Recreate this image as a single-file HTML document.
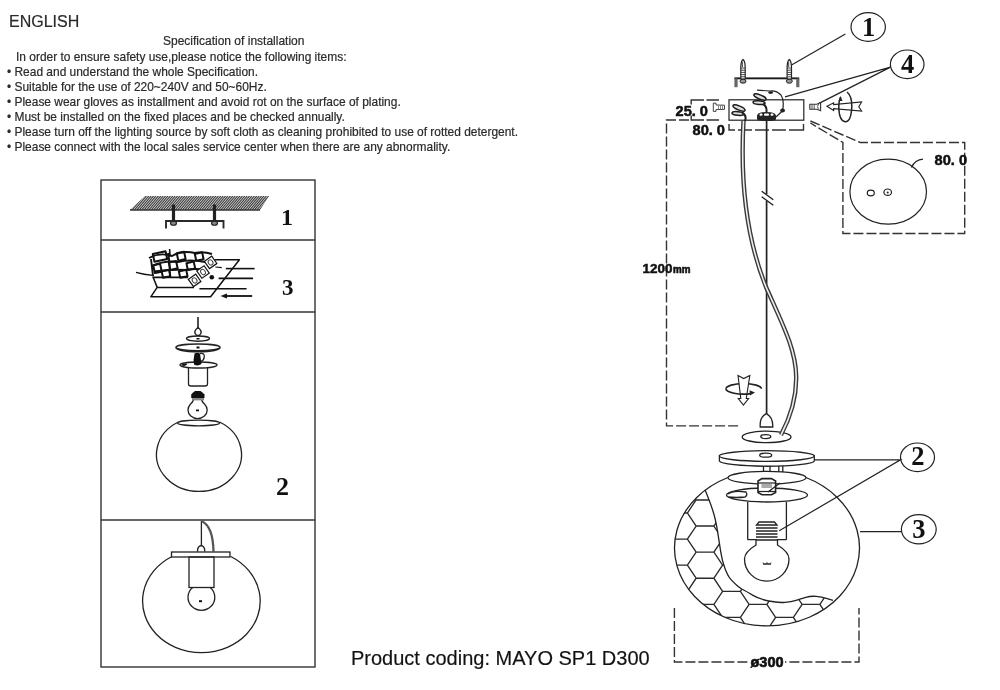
<!DOCTYPE html>
<html><head><meta charset="utf-8">
<style>
html,body{margin:0;padding:0;background:#fff;}
body{width:1000px;height:690px;position:relative;overflow:hidden;font-family:"Liberation Sans",sans-serif;color:#2a2a2a;}
.t{position:absolute;white-space:nowrap;font-size:11.94px;line-height:15px;}
svg{position:absolute;left:0;top:0;}
.t,svg{will-change:transform;}
.t{-webkit-text-stroke:0.2px #2a2a2a;}
</style></head><body>
<div class="t" style="left:9px;top:12.8px;font-size:16px;line-height:18px;">ENGLISH</div>
<div class="t" style="left:163px;top:34px;font-size:12px;">Specification of installation</div>
<div class="t" style="left:16px;top:50px;">In order to ensure safety use,please notice the following items:</div>
<div class="t" style="left:7px;top:65px;">• Read and understand the whole Specification.</div>
<div class="t" style="left:7px;top:80px;">• Suitable for the use of 220~240V and 50~60Hz.</div>
<div class="t" style="left:7px;top:95px;">• Please wear gloves as installment and avoid rot on the surface of plating.</div>
<div class="t" style="left:7px;top:110px;">• Must be installed on the fixed places and be checked annually.</div>
<div class="t" style="left:7px;top:125px;">• Please turn off the lighting source by soft cloth as cleaning prohibited to use of rotted detergent.</div>
<div class="t" style="left:7px;top:140px;">• Please connect with the local sales service center when there are any abnormality.</div>
<svg width="1000" height="690" viewBox="0 0 1000 690">
<g stroke="#333" fill="none" stroke-width="1.4">
<rect x="101" y="180" width="214" height="487"/>
<line x1="101" y1="240" x2="315" y2="240"/>
<line x1="101" y1="312" x2="315" y2="312"/>
<line x1="101" y1="520" x2="315" y2="520"/>
</g>
<defs><pattern id="hatch" width="2.4" height="14" patternUnits="userSpaceOnUse" patternTransform="skewX(-45)"><rect width="1.6" height="14" fill="#3a3a3a"/></pattern></defs>
<clipPath id="hc1"><polygon points="145,196 269,196 260,210 130,210"/></clipPath>
<polygon points="145,196 269,196 260,210 130,210" fill="#ddd"/>
<path d="M120.0,210 L132.0,196 M122.4,210 L134.4,196 M124.8,210 L136.8,196 M127.2,210 L139.2,196 M129.6,210 L141.6,196 M132.0,210 L144.0,196 M134.4,210 L146.4,196 M136.8,210 L148.8,196 M139.2,210 L151.2,196 M141.6,210 L153.6,196 M144.0,210 L156.0,196 M146.4,210 L158.4,196 M148.8,210 L160.8,196 M151.2,210 L163.2,196 M153.6,210 L165.6,196 M156.0,210 L168.0,196 M158.4,210 L170.4,196 M160.8,210 L172.8,196 M163.2,210 L175.2,196 M165.6,210 L177.6,196 M168.0,210 L180.0,196 M170.4,210 L182.4,196 M172.8,210 L184.8,196 M175.2,210 L187.2,196 M177.6,210 L189.6,196 M180.0,210 L192.0,196 M182.4,210 L194.4,196 M184.8,210 L196.8,196 M187.2,210 L199.2,196 M189.6,210 L201.6,196 M192.0,210 L204.0,196 M194.4,210 L206.4,196 M196.8,210 L208.8,196 M199.2,210 L211.2,196 M201.6,210 L213.6,196 M204.0,210 L216.0,196 M206.4,210 L218.4,196 M208.8,210 L220.8,196 M211.2,210 L223.2,196 M213.6,210 L225.6,196 M216.0,210 L228.0,196 M218.4,210 L230.4,196 M220.8,210 L232.8,196 M223.2,210 L235.2,196 M225.6,210 L237.6,196 M228.0,210 L240.0,196 M230.4,210 L242.4,196 M232.8,210 L244.8,196 M235.2,210 L247.2,196 M237.6,210 L249.6,196 M240.0,210 L252.0,196 M242.4,210 L254.4,196 M244.8,210 L256.8,196 M247.2,210 L259.2,196 M249.6,210 L261.6,196 M252.0,210 L264.0,196 M254.4,210 L266.4,196 M256.8,210 L268.8,196 M259.2,210 L271.2,196 M261.6,210 L273.6,196 M264.0,210 L276.0,196 M266.4,210 L278.4,196 M268.8,210 L280.8,196 M271.2,210 L283.2,196 M273.6,210 L285.6,196" stroke="#3a3a3a" stroke-width="1.15" clip-path="url(#hc1)"/>
<line x1="130" y1="210" x2="260" y2="210" stroke="#333" stroke-width="1.3"/>
<g stroke="#2a2a2a" fill="none" stroke-width="1.9">
<polyline points="166,228.5 166,221 223.5,221 223.5,228.5"/>
</g>
<path d="M171.9,222 L171.9,205.5 Q173.5,203 175.1,205.5 L175.1,222 Z" fill="#222"/>
<ellipse cx="173.5" cy="223.3" rx="3" ry="2" fill="#888" stroke="#222" stroke-width="1.1"/>
<path d="M212.9,222 L212.9,205.5 Q214.5,203 216.1,205.5 L216.1,222 Z" fill="#222"/>
<ellipse cx="214.5" cy="223.3" rx="3" ry="2" fill="#888" stroke="#222" stroke-width="1.1"/>
<text x="281" y="224.6" font-family="Liberation Serif" font-weight="bold" font-size="24" fill="#111">1</text>
<g stroke="#111" fill="none" stroke-width="1.5" stroke-linejoin="round">
<polyline points="214.6,259.8 239.4,259.8 210.6,296.8 150.8,296.8 157.2,287.4 194,287.4"/>
<polyline points="152.8,276.5 157.2,287.4"/>
<path d="M136,272.3 Q144,274.5 152.8,275.4" stroke-width="1.4"/>
<line x1="225.8" y1="268.6" x2="254.6" y2="268.6" stroke-width="1.6"/>
<line x1="215.4" y1="267" x2="221.8" y2="267.6" stroke-width="1.2"/>
<line x1="218.6" y1="278.4" x2="253" y2="278.4" stroke-width="1.9"/>
<line x1="199.4" y1="288.8" x2="246.6" y2="288.8" stroke-width="1.6"/>
<line x1="224" y1="296" x2="252.2" y2="296" stroke-width="1.8"/>
</g>
<polygon points="220.5,296 227,293.6 227,298.4" fill="#111"/>
<circle cx="211.8" cy="277.2" r="2.3" fill="#111"/>
<g stroke="#111" stroke-width="2" fill="#fff" stroke-linejoin="round">
<rect x="153.5" y="252.5" width="13" height="8" transform="rotate(-12 160 256.5)"/>
<rect x="177.45" y="252.45" width="7.5" height="7.5" transform="rotate(-12 181.2 256.2)"/>
<rect x="195.45" y="253.10000000000002" width="7.5" height="7" transform="rotate(-12 199.2 256.6)"/>
<rect x="169.45" y="261.65" width="7.5" height="7.5" transform="rotate(-12 173.2 265.4)"/>
<rect x="187.05" y="262.3" width="7.5" height="7" transform="rotate(-12 190.8 265.8)"/>
<rect x="154.0" y="264.5" width="7" height="8" transform="rotate(-12 157.5 268.5)"/>
<rect x="162.25" y="270.55" width="7.5" height="6.5" transform="rotate(-12 166 273.8)"/>
<rect x="179.45" y="270.55" width="7.5" height="6.5" transform="rotate(-12 183.2 273.8)"/>
</g>
<path d="M149,258 Q160,252 172,256 Q182,250 195,253 Q203,251 212,254 M152,266 Q165,260 178,262 Q190,259 205,262 M154,271.5 Q170,269 186,270 Q196,268 206,270 M152.8,277.4 L188,277.4 M151,259 L153,276 M168,253 Q170,262 170,278" stroke="#111" stroke-width="1.9" fill="none"/>
<path d="M169.6,249 L170,256" stroke="#111" stroke-width="1.6"/>
<rect x="190.1" y="275.9" width="9" height="9" fill="#fff" stroke="#111" stroke-width="1.2" transform="rotate(-35 194.6 280.4)"/>
<ellipse cx="194.6" cy="280.4" rx="2.2" ry="2.8" fill="none" stroke="#444" stroke-width="1" transform="rotate(-35 194.6 280.4)"/>
<rect x="198.5" y="267.5" width="9" height="9" fill="#fff" stroke="#111" stroke-width="1.2" transform="rotate(-35 203 272)"/>
<ellipse cx="203" cy="272" rx="2.2" ry="2.8" fill="none" stroke="#444" stroke-width="1" transform="rotate(-35 203 272)"/>
<rect x="206.1" y="257.9" width="9" height="9" fill="#fff" stroke="#111" stroke-width="1.2" transform="rotate(-35 210.6 262.4)"/>
<ellipse cx="210.6" cy="262.4" rx="2.2" ry="2.8" fill="none" stroke="#444" stroke-width="1" transform="rotate(-35 210.6 262.4)"/>
<text x="282" y="295.4" font-family="Liberation Serif" font-weight="bold" font-size="23" fill="#111">3</text>
<g stroke="#222" fill="none" stroke-width="1.2">
<line x1="198" y1="317" x2="198" y2="329" stroke-width="1.6"/>
<path d="M198,327.5 Q201.8,330.5 201,333.2 Q200,335.5 198,335.5 Q196,335.5 195,333.2 Q194.2,330.5 198,327.5 Z" stroke-width="1.5"/>
<ellipse cx="198" cy="338.6" rx="11.5" ry="2.6" stroke-width="1.4"/>
<ellipse cx="198" cy="347.3" rx="22" ry="3.3" stroke-width="1.4"/><path d="M176,347.5 Q177,351.5 198,351.8 Q219,351.5 220,347.5" stroke-width="1.6"/>
<path d="M180,365 A18.5,3 0 0 1 217,365 A18.5,3 0 0 1 180,365" stroke-width="1.4"/>
<path d="M188.5,367 L188.5,384 Q188.5,386 191,386 L205,386 Q207.5,386 207.5,384 L207.5,367" stroke-width="1.3"/>
<path d="M193.5,397.5 Q194,401 190.5,404 Q188,407 188,410 A9.6,8.6 0 0 0 207.2,410 Q207.2,407 204.5,404 Q201,401 201.5,397.5" stroke-width="1.3"/>
<path d="M200,353.5 Q205,352.5 204.2,357.5 Q203.5,361 200.5,361.5" stroke-width="1.3"/>
</g>
<rect x="196.5" y="338" width="3" height="1.5" fill="#111"/>
<rect x="196.5" y="346.5" width="3" height="2" fill="#111"/>
<path d="M194.5,353.5 Q197,352 200,353.5 L201.5,364 Q198,366.5 194,364.5 Q193,360 194.5,353.5 Z" fill="#111"/><path d="M180.5,365.2 Q183,363.2 187,363.6 Q187.5,365.5 184,366 Z" fill="#111"/>
<path d="M191.2,398 L191.2,394.5 Q192.5,392.5 195,391 L200.5,391 Q203,392.5 204.5,394.5 L204.5,398 Z" fill="#111"/><rect x="192" y="398" width="12" height="2.4" fill="#888"/>
<rect x="196" y="409.5" width="3" height="1.8" fill="#111"/>
<g stroke="#222" fill="none" stroke-width="1.3">
<path d="M178.5,422 A42.5,37 0 1 0 219.5,422"/>
<ellipse cx="198.6" cy="423" rx="21" ry="2.8"/>
</g>
<text x="276" y="495.2" font-family="Liberation Serif" font-weight="bold" font-size="26" fill="#111">2</text>
<g stroke="#222" fill="none" stroke-width="1.3">
<line x1="201.4" y1="521" x2="201.4" y2="546"/>
<path d="M197.5,551.5 Q197.5,546 201.2,545.5 Q204.8,546 204.8,551.5"/>
<path d="M201.4,521 Q213,526 213.5,551.5" stroke="#555" stroke-width="2.3"/>
<rect x="171.5" y="552" width="58.5" height="5" fill="#fff"/>
<rect x="189" y="557" width="25" height="30.5"/>
<path d="M192.6,587.5 A13.4,13 0 1 0 210.2,587.5"/>
<path d="M172,556.5 A58.8,51.5 0 1 0 230.8,556.5"/>
</g>
<rect x="199" y="600.2" width="3" height="2" fill="#111"/>
<g stroke="#222" fill="none" stroke-width="1.2">
<ellipse cx="868.2" cy="27" rx="17.2" ry="14.3"/>
<ellipse cx="907.2" cy="64.3" rx="16.8" ry="14.3"/>
<ellipse cx="917.5" cy="457.3" rx="17" ry="14.3"/>
<ellipse cx="918.8" cy="529.3" rx="17.4" ry="14.6"/>
<line x1="845.4" y1="34.1" x2="791.5" y2="64.9"/>
<polyline points="785,96.8 890.5,67.1 819,103.4"/>
<line x1="860" y1="531.7" x2="901.4" y2="531.7"/>
<rect x="729" y="99.8" width="74.8" height="20.4"/>
</g>
<g font-family="Liberation Serif" font-size="26.5" fill="#111" font-weight="bold">
<text x="868.5" y="35.6" text-anchor="middle">1</text>
<text x="907.5" y="72.6" text-anchor="middle">4</text>
<text x="917.8" y="465.2" text-anchor="middle">2</text>
<text x="918.8" y="537.8" text-anchor="middle">3</text>
</g>
<rect x="734.4" y="77.4" width="64.8" height="1.9" fill="#1a1a1a"/>
<rect x="734.4" y="78.5" width="3.2" height="8.7" fill="#666"/>
<rect x="796.2" y="78.5" width="3.2" height="8.7" fill="#666"/>
<path d="M740.8,79 L740.8,67 Q741,61 743,59.5 Q745,61 745.2,67 L745.2,79 Z" fill="#fff" stroke="#222" stroke-width="1.2"/>
<ellipse cx="743" cy="81.2" rx="3" ry="2" fill="#999" stroke="#222" stroke-width="1"/>
<path d="M740.8,68 L745.2,68 M740.8,70.2 L745.2,70.2 M740.8,72.4 L745.2,72.4 M740.8,74.6 L745.2,74.6 M740.8,76.8 L745.2,76.8" stroke="#333" stroke-width="0.9"/>
<path d="M742.4,62 L742.4,67" stroke="#444" stroke-width="1"/>
<path d="M787.0999999999999,79 L787.0999999999999,67 Q787.3,61 789.3,59.5 Q791.3,61 791.5,67 L791.5,79 Z" fill="#fff" stroke="#222" stroke-width="1.2"/>
<ellipse cx="789.3" cy="81.2" rx="3" ry="2" fill="#999" stroke="#222" stroke-width="1"/>
<path d="M787.0999999999999,68 L791.5,68 M787.0999999999999,70.2 L791.5,70.2 M787.0999999999999,72.4 L791.5,72.4 M787.0999999999999,74.6 L791.5,74.6 M787.0999999999999,76.8 L791.5,76.8" stroke="#333" stroke-width="0.9"/>
<path d="M788.6999999999999,62 L788.6999999999999,67" stroke="#444" stroke-width="1"/>
<g stroke="#333" fill="none" stroke-width="1.4" stroke-dasharray="10,3">
</g>
<g stroke="#333" fill="none" stroke-width="1.4">
<path d="M719,100 L706.5,100 M704,100 L691.2,100 L691.2,104.5 M691.2,115.5 L691.2,120 L704,120 M706.5,120 L719,120"/>
<path d="M729,124 L729,130 L735,130 M738,130 L752,130 M755,130 L769,130 M772,130 L786,130 M789,130 L803.5,130 L803.5,124"/>
<path d="M689,120 L666.5,120 L666.5,425.9 L740,425.9" stroke-dasharray="10,3"/>
</g>
<g stroke="#333" fill="none" stroke-width="1.4" stroke-dasharray="10,3">
<polyline points="810.4,121 860.3,142.5 964.7,142.5 964.7,233.5 842.9,233.5 842.9,142.5 810.4,123"/>
<polyline points="674.4,608 674.4,662 859,662 859,608"/>
</g>
<g font-family="Liberation Sans" font-weight="bold" fill="#111">
<g stroke="#111" stroke-width="0.5">
<text x="675.5" y="115.6" font-size="14" textLength="32.5" lengthAdjust="spacingAndGlyphs">25. 0</text>
<text x="692.5" y="135" font-size="14" textLength="32.5" lengthAdjust="spacingAndGlyphs">80. 0</text>
<text x="934.6" y="165" font-size="14" textLength="32.5" lengthAdjust="spacingAndGlyphs">80. 0</text>
</g>
<text x="642.5" y="272.8" font-size="13.5" textLength="30" lengthAdjust="spacingAndGlyphs" stroke="#111" stroke-width="0.5">1200</text>
<text x="673" y="272.8" font-size="10" textLength="17.5" lengthAdjust="spacingAndGlyphs" stroke="#111" stroke-width="0.6">mm</text>
<rect x="749" y="655" width="36" height="13" fill="#fff"/>
<text x="750.5" y="666.8" font-size="14" textLength="33" lengthAdjust="spacingAndGlyphs" stroke="#111" stroke-width="0.6">ø300</text>
</g>
<g stroke="#222" fill="none" stroke-width="1.3">
<path d="M766.6,121 L766.6,194 M766.6,201 L766.6,414" stroke-width="1.7"/>
<line x1="761.7" y1="191.2" x2="773.3" y2="199.8" stroke-width="1.4"/><line x1="761.7" y1="196.7" x2="773.3" y2="205.2" stroke-width="1.4"/>
<path d="M760.2,427 Q759.5,417 766.3,413.7 Q773,417 772.8,427 Z"/>
<ellipse cx="766.6" cy="436.9" rx="24.4" ry="5.8"/>
<ellipse cx="765.8" cy="436.6" rx="5" ry="2"/>
</g>
<path d="M743.5,121 C740.5,175 744,232 766,287 C783,325 796,350 796.2,377 C796.5,400 789,420 781,435" stroke="#3a3a3a" stroke-width="4.4" fill="none"/>
<path d="M743.5,121 C740.5,175 744,232 766,287 C783,325 796,350 796.2,377 C796.5,400 789,420 781,435" stroke="#eee" stroke-width="1.6" fill="none"/>
<g fill="#222">
<path d="M757,116 Q757,112 766.5,112 Q776,112 776,116 L776,119 Q776,121 766.5,121 Q757,121 757,119 Z"/>
<rect x="759.5" y="113.6" width="3" height="2.2" rx="1" fill="#fff"/><rect x="764" y="113.6" width="5" height="2.2" rx="1" fill="#fff"/><rect x="770.5" y="113.6" width="3" height="2.2" rx="1" fill="#fff"/>
</g>
<g stroke="#222" fill="none" stroke-width="1.2">
<path d="M776,117 L782.6,110.6 Q784.5,100 781,95 Q776,90 770,91 L757,90.2"/>
</g>
<g fill="#222">
<ellipse cx="782.6" cy="110.6" rx="2.4" ry="2" />
</g><g fill="#ddd" stroke="#1a1a1a" stroke-width="1.5">
<ellipse cx="739" cy="108" rx="6.5" ry="2" transform="rotate(22 739 108)"/>
<ellipse cx="738" cy="113.5" rx="6" ry="1.8" transform="rotate(5 738 113.5)"/>
<ellipse cx="760" cy="97" rx="6.5" ry="2" transform="rotate(22 760 97)"/>
<ellipse cx="759" cy="102.6" rx="6" ry="1.8" transform="rotate(5 759 102.6)"/>
</g><g fill="#222">
<ellipse cx="770.6" cy="92.6" rx="2.5" ry="1.4"/>
</g>
<path d="M742,113 Q747,115 745,121 M763,104 Q767,106 766.5,112" stroke="#222" stroke-width="2" fill="none"/>
<path d="M713.3,103.2 L716,103.2 L716,105 L724.5,105.2 L724.5,109.4 L716,109.6 L716,111.4 L713.3,111.4 Z" fill="#fff" stroke="#444" stroke-width="1"/>
<path d="M718.5,105.3 L718.5,109.4 M720.5,105.3 L720.5,109.4 M722.5,105.3 L722.5,109.4" stroke="#666" stroke-width="0.8"/>
<path d="M809.8,104.2 L816.8,104.2 L820.6,102.6 L820.6,110.7 L816.8,109.2 L809.8,109.2 Z" fill="#fff" stroke="#333" stroke-width="1.1"/>
<path d="M812,104.3 L812,109.2 M814.2,104.3 L814.2,109.2 M818.6,104 L817.5,106.7 L818.6,109.4" stroke="#444" stroke-width="0.9" fill="none"/>
<path d="M827,106.3 L833.6,102.8 L833.6,104.6 L861.6,102 L858.8,106.7 L861.6,111 L833.6,108.6 L833.6,110.5 Z" fill="#fff" stroke="#222" stroke-width="1.1"/>
<path d="M847,92 Q852,96 851.8,107 Q851,122 845.3,121.7 Q839,121 838.8,107 Q839,100 840.6,97" fill="none" stroke="#222" stroke-width="1.5"/>
<polygon points="840.6,96 838.5,101 842.5,101" fill="#222"/>
<path d="M726,388.8 A17.7,5.2 0 0 1 761.4,388.8" fill="none" stroke="#222" stroke-width="1.7"/>
<path d="M738,375.4 L743.7,378.6 L749.8,375.4 L746.3,398.5 L748.6,398.5 L743.4,405 L738.3,398.5 L740.8,398.5 Z" fill="#fff" stroke="#222" stroke-width="1.1"/>
<path d="M726,388.8 A17.7,5.2 0 0 0 751,393.6" fill="none" stroke="#222" stroke-width="1.7"/>
<polygon points="755,392.6 749.5,390.3 750,395.6" fill="#222"/>
<g stroke="#222" fill="none" stroke-width="1.2">
<ellipse cx="888.2" cy="191.7" rx="38.3" ry="32.5"/>
<ellipse cx="870.8" cy="193" rx="3.5" ry="2.8"/>
<ellipse cx="887.7" cy="192.2" rx="3.8" ry="3.2"/>
<path d="M911.4,167.4 Q915,160 923,159.2"/>
</g>
<circle cx="887.7" cy="192.4" r="1" fill="#222"/>
<defs><clipPath id="gclip"><ellipse cx="767" cy="548" rx="92.5" ry="77.8"/></clipPath>
<clipPath id="hclip"><polygon points="705,489.8 710.8,504 715.5,519 719.2,541.7 722,560.6 727.7,575.7 733,582 741,588.9 746,591.2 759,599 778.5,603 791.5,601.6 800.6,599 811,595.8 821.4,597 833,600.3 840,640 660,640 660,489.8"/></clipPath></defs>
<path d="M728,477.5 A92.5,77.8 0 1 0 806,477.5" fill="none" stroke="#222" stroke-width="1.3"/>
<g clip-path="url(#gclip)"><g clip-path="url(#hclip)"><path d="M643.1,473.9 L660.9,473.9 L669.6,486.9 L660.9,500.0 L643.1,500.0 L634.4,486.9 Z M643.1,499.9 L660.9,499.9 L669.6,513.0 L660.9,526.0 L643.1,526.0 L634.4,513.0 Z M643.1,526.1 L660.9,526.1 L669.6,539.1 L660.9,552.1 L643.1,552.1 L634.4,539.1 Z M643.1,552.2 L660.9,552.2 L669.6,565.2 L660.9,578.2 L643.1,578.2 L634.4,565.2 Z M643.1,578.3 L660.9,578.3 L669.6,591.3 L660.9,604.4 L643.1,604.4 L634.4,591.3 Z M643.1,604.4 L660.9,604.4 L669.6,617.4 L660.9,630.5 L643.1,630.5 L634.4,617.4 Z M643.1,630.5 L660.9,630.5 L669.6,643.5 L660.9,656.5 L643.1,656.5 L634.4,643.5 Z M669.6,460.8 L687.4,460.8 L696.1,473.9 L687.4,486.9 L669.6,486.9 L660.9,473.9 Z M669.6,486.9 L687.4,486.9 L696.1,500.0 L687.4,513.0 L669.6,513.0 L660.9,500.0 Z M669.6,513.0 L687.4,513.0 L696.1,526.0 L687.4,539.1 L669.6,539.1 L660.9,526.0 Z M669.6,539.1 L687.4,539.1 L696.1,552.1 L687.4,565.2 L669.6,565.2 L660.9,552.1 Z M669.6,565.2 L687.4,565.2 L696.1,578.2 L687.4,591.3 L669.6,591.3 L660.9,578.2 Z M669.6,591.3 L687.4,591.3 L696.1,604.4 L687.4,617.4 L669.6,617.4 L660.9,604.4 Z M669.6,617.4 L687.4,617.4 L696.1,630.5 L687.4,643.5 L669.6,643.5 L660.9,630.5 Z M696.1,473.9 L713.9,473.9 L722.6,486.9 L713.9,500.0 L696.1,500.0 L687.4,486.9 Z M696.1,499.9 L713.9,499.9 L722.6,513.0 L713.9,526.0 L696.1,526.0 L687.4,513.0 Z M696.1,526.1 L713.9,526.1 L722.6,539.1 L713.9,552.1 L696.1,552.1 L687.4,539.1 Z M696.1,552.2 L713.9,552.2 L722.6,565.2 L713.9,578.2 L696.1,578.2 L687.4,565.2 Z M696.1,578.3 L713.9,578.3 L722.6,591.3 L713.9,604.4 L696.1,604.4 L687.4,591.3 Z M696.1,604.4 L713.9,604.4 L722.6,617.4 L713.9,630.5 L696.1,630.5 L687.4,617.4 Z M696.1,630.5 L713.9,630.5 L722.6,643.5 L713.9,656.5 L696.1,656.5 L687.4,643.5 Z M722.6,460.8 L740.4,460.8 L749.1,473.9 L740.4,486.9 L722.6,486.9 L713.9,473.9 Z M722.6,486.9 L740.4,486.9 L749.1,500.0 L740.4,513.0 L722.6,513.0 L713.9,500.0 Z M722.6,513.0 L740.4,513.0 L749.1,526.0 L740.4,539.1 L722.6,539.1 L713.9,526.0 Z M722.6,539.1 L740.4,539.1 L749.1,552.1 L740.4,565.2 L722.6,565.2 L713.9,552.1 Z M722.6,565.2 L740.4,565.2 L749.1,578.2 L740.4,591.3 L722.6,591.3 L713.9,578.2 Z M722.6,591.3 L740.4,591.3 L749.1,604.4 L740.4,617.4 L722.6,617.4 L713.9,604.4 Z M722.6,617.4 L740.4,617.4 L749.1,630.5 L740.4,643.5 L722.6,643.5 L713.9,630.5 Z M749.1,473.9 L766.9,473.9 L775.6,486.9 L766.9,500.0 L749.1,500.0 L740.4,486.9 Z M749.1,499.9 L766.9,499.9 L775.6,513.0 L766.9,526.0 L749.1,526.0 L740.4,513.0 Z M749.1,526.1 L766.9,526.1 L775.6,539.1 L766.9,552.1 L749.1,552.1 L740.4,539.1 Z M749.1,552.2 L766.9,552.2 L775.6,565.2 L766.9,578.2 L749.1,578.2 L740.4,565.2 Z M749.1,578.3 L766.9,578.3 L775.6,591.3 L766.9,604.4 L749.1,604.4 L740.4,591.3 Z M749.1,604.4 L766.9,604.4 L775.6,617.4 L766.9,630.5 L749.1,630.5 L740.4,617.4 Z M749.1,630.5 L766.9,630.5 L775.6,643.5 L766.9,656.5 L749.1,656.5 L740.4,643.5 Z M775.6,460.8 L793.4,460.8 L802.1,473.9 L793.4,486.9 L775.6,486.9 L766.9,473.9 Z M775.6,486.9 L793.4,486.9 L802.1,500.0 L793.4,513.0 L775.6,513.0 L766.9,500.0 Z M775.6,513.0 L793.4,513.0 L802.1,526.0 L793.4,539.1 L775.6,539.1 L766.9,526.0 Z M775.6,539.1 L793.4,539.1 L802.1,552.1 L793.4,565.2 L775.6,565.2 L766.9,552.1 Z M775.6,565.2 L793.4,565.2 L802.1,578.2 L793.4,591.3 L775.6,591.3 L766.9,578.2 Z M775.6,591.3 L793.4,591.3 L802.1,604.4 L793.4,617.4 L775.6,617.4 L766.9,604.4 Z M775.6,617.4 L793.4,617.4 L802.1,630.5 L793.4,643.5 L775.6,643.5 L766.9,630.5 Z M802.1,473.9 L819.9,473.9 L828.6,486.9 L819.9,500.0 L802.1,500.0 L793.4,486.9 Z M802.1,499.9 L819.9,499.9 L828.6,513.0 L819.9,526.0 L802.1,526.0 L793.4,513.0 Z M802.1,526.1 L819.9,526.1 L828.6,539.1 L819.9,552.1 L802.1,552.1 L793.4,539.1 Z M802.1,552.2 L819.9,552.2 L828.6,565.2 L819.9,578.2 L802.1,578.2 L793.4,565.2 Z M802.1,578.3 L819.9,578.3 L828.6,591.3 L819.9,604.4 L802.1,604.4 L793.4,591.3 Z M802.1,604.4 L819.9,604.4 L828.6,617.4 L819.9,630.5 L802.1,630.5 L793.4,617.4 Z M802.1,630.5 L819.9,630.5 L828.6,643.5 L819.9,656.5 L802.1,656.5 L793.4,643.5 Z M828.6,460.8 L846.4,460.8 L855.1,473.9 L846.4,486.9 L828.6,486.9 L819.9,473.9 Z M828.6,486.9 L846.4,486.9 L855.1,500.0 L846.4,513.0 L828.6,513.0 L819.9,500.0 Z M828.6,513.0 L846.4,513.0 L855.1,526.0 L846.4,539.1 L828.6,539.1 L819.9,526.0 Z M828.6,539.1 L846.4,539.1 L855.1,552.1 L846.4,565.2 L828.6,565.2 L819.9,552.1 Z M828.6,565.2 L846.4,565.2 L855.1,578.2 L846.4,591.3 L828.6,591.3 L819.9,578.2 Z M828.6,591.3 L846.4,591.3 L855.1,604.4 L846.4,617.4 L828.6,617.4 L819.9,604.4 Z M828.6,617.4 L846.4,617.4 L855.1,630.5 L846.4,643.5 L828.6,643.5 L819.9,630.5 Z" fill="none" stroke="#2a2a2a" stroke-width="1.3"/></g></g>
<path d="M705,489.8 Q710.8,504 713.1,511.5 Q715.5,519 717.4,530.4 Q719.2,541.7 720.6,551.2 Q722,560.6 724.9,568.2 Q727.7,575.7 730.4,578.9 Q733,582 737.0,585.5 Q741,588.9 743.5,590.0 Q746,591.2 752.5,595.1 Q759,599 768.8,601.0 Q778.5,603 785.0,602.3 Q791.5,601.6 796.0,600.3 Q800.6,599 805.8,597.4 Q811,595.8 816.2,596.4 Q821.4,597 827.2,598.6 L833,600.3" fill="none" stroke="#222" stroke-width="1.3"/>
<g stroke="#222" fill="#fff" stroke-width="1.3">
<rect x="763.5" y="465" width="6.5" height="12" />
<rect x="778.8" y="465" width="4" height="12" />
<path d="M719.4,456 L719.4,461 A47.5,5.5 0 0 0 814.3,461 L814.3,456 Z"/>
<ellipse cx="766.8" cy="456" rx="47.5" ry="5.3"/>
<ellipse cx="765.7" cy="455.2" rx="6" ry="2"/>
<ellipse cx="767" cy="477.7" rx="39" ry="6.3"/>
<ellipse cx="767" cy="495" rx="40.5" ry="7"/>
<path d="M728,494 Q733,490 746,492 Q748,495 745,497 Q736,498 728,497" />
</g>
<g stroke="#222" fill="none" stroke-width="1.3">
<path d="M747.7,502 L747.7,539.7 M786.4,502 L786.4,539.7 M747.7,539.7 L756,539.7 M777.5,539.7 L786.4,539.7"/>
<path d="M756,539 L756,545 Q744.5,552 744.5,559 A22.2,22 0 0 0 789,559 Q789,552 777.5,545 L777.5,539"/>
<path d="M759,522 L774.5,522 L777,525 L756.5,525 Z"/>
</g>
<g stroke="#222" stroke-width="1.5">
<line x1="756" y1="528" x2="777.5" y2="528"/>
<line x1="756" y1="531" x2="777.5" y2="531"/>
<line x1="756" y1="534" x2="777.5" y2="534"/>
<line x1="756" y1="537" x2="777.5" y2="537"/>
<line x1="756" y1="540" x2="777.5" y2="540"/>
</g>
<path d="M758,481 L762,478.6 L771.5,478.6 L775.6,481 L775.6,492.5 L771.5,494.8 L762,494.8 L758,492.5 Z" fill="#fff" stroke="#222" stroke-width="1.6"/>
<path d="M761.5,484 L772,484 L772,488 L761.5,488 Z" fill="#aaa"/>
<line x1="758" y1="483" x2="775.6" y2="483" stroke="#222" stroke-width="1.2"/>
<line x1="758" y1="491.5" x2="775.6" y2="491.5" stroke="#222" stroke-width="1.2"/>
<line x1="768" y1="492" x2="780" y2="483" stroke="#222" stroke-width="1.4"/>
<path d="M763,562.5 L764,565 L765,563 L766,565 L767,562.5 M767,562.5 L768,565 L769,563 L770,565 L771,562.5" stroke="#222" stroke-width="0.9" fill="none"/>
<polyline points="814.3,459.8 900.5,459.8 779.2,530.8" stroke="#222" fill="none" stroke-width="1.2"/>
</svg>
<div class="t" style="left:351px;top:646px;font-size:20px;line-height:24px;color:#111;">Product coding: MAYO SP1 D300</div>
</body></html>
